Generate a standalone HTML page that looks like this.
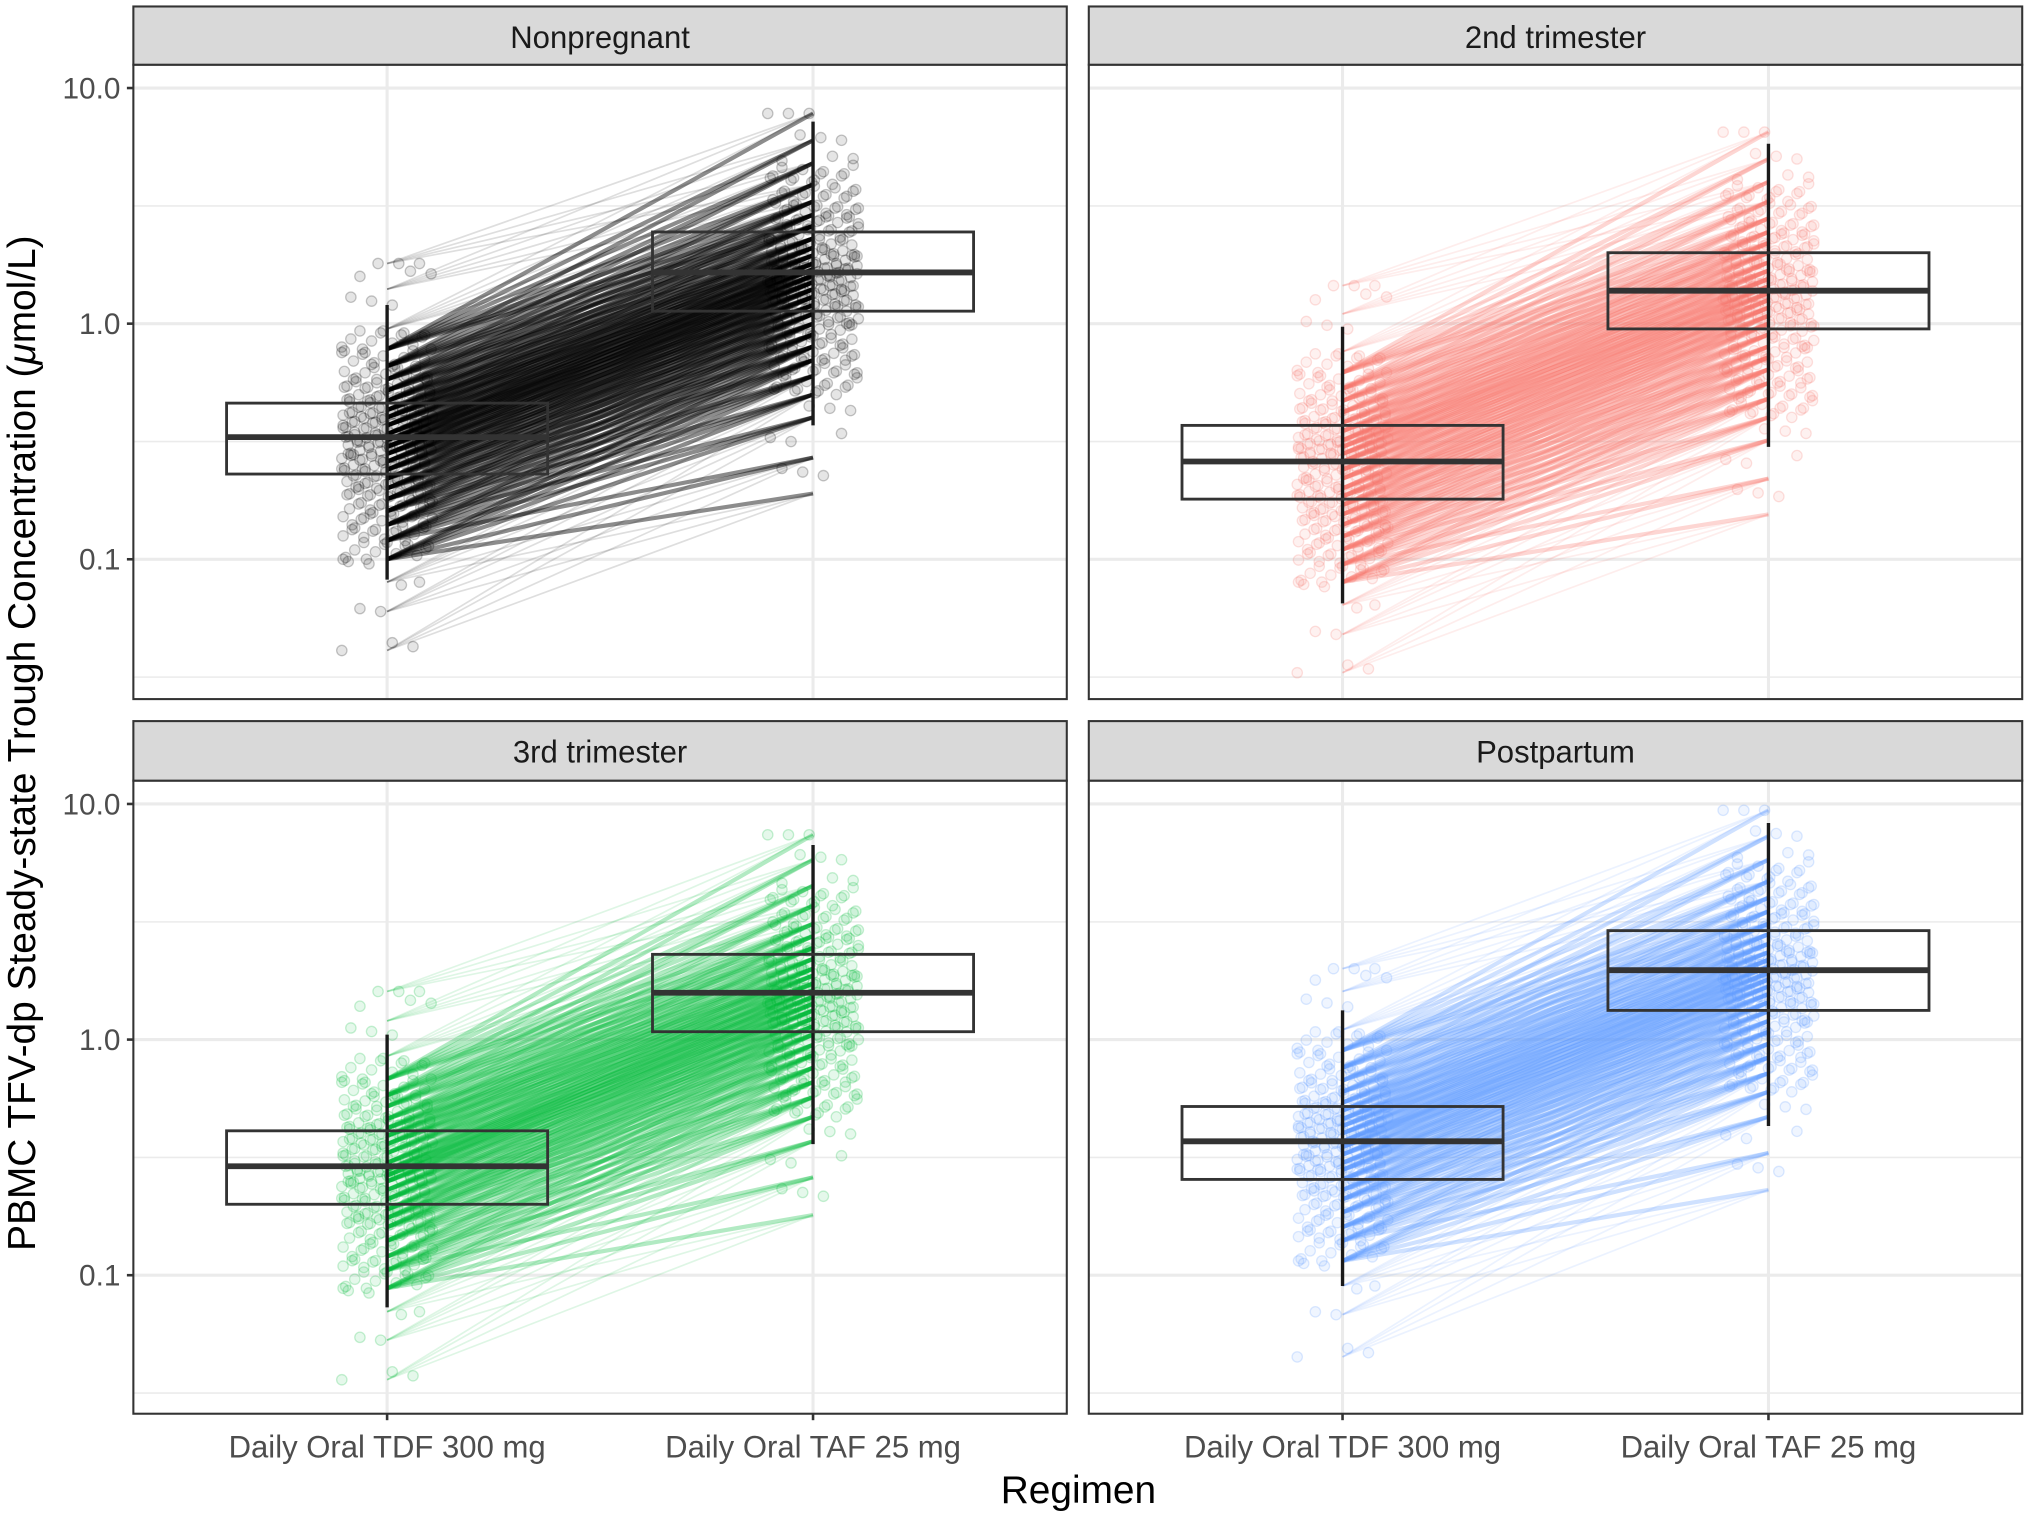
<!DOCTYPE html>
<html><head><meta charset="utf-8"><style>
html,body{margin:0;padding:0;background:#fff;}
svg{display:block;font-family:"Liberation Sans",sans-serif;}
</style></head><body>
<svg id="chart" width="2030" height="1516" viewBox="0 0 1568 1171" xmlns="http://www.w3.org/2000/svg">
<rect width="1568" height="1171" fill="#fff"/>
<text transform="translate(27,574) rotate(-90)" text-anchor="middle" font-size="30" fill="#000">PBMC TFV-dp Steady-state Trough Concentration (<tspan font-style="italic">μ</tspan>mol/L)</text>
<text x="833" y="1161" text-anchor="middle" font-size="30" fill="#000">Regimen</text>
</svg>
<script>
const panelNames = ["Nonpregnant","2nd trimester","3rd trimester","Postpartum"];
const panelColors = ["#000000","#F8766D","#00BA38","#619CFF"];
const categories = ["Daily Oral TDF 300 mg","Daily Oral TAF 25 mg"];
const yTicks = [10,1,0.1];
const yTickLabels = ["10.0","1.0","0.1"];
// box stats [lo, q1, med, q3, hi]
const tdfBox = [[0.082,0.23,0.33,0.46,1.2],[0.065,0.18,0.26,0.37,0.97],[0.073,0.20,0.29,0.41,1.05],[0.09,0.255,0.37,0.52,1.33]];
const tafBox = [[0.37,1.13,1.65,2.45,7.2],[0.30,0.95,1.38,2.0,5.8],[0.36,1.08,1.58,2.3,6.7],[0.43,1.33,1.97,2.9,8.3]];
// individual values (sorted pairs)
const tdfVals0 = [0.041,0.06,0.08,0.1,0.12,0.14,0.16,0.18,0.2,0.22,0.24,0.26,0.28,0.3,0.32,0.34,0.37,0.4,0.43,0.47,0.52,0.58,0.66,0.78,0.95,1.4,1.8];
const tafVals0 = [0.19,0.27,0.4,0.5,0.6,0.7,0.8,0.9,1.0,1.1,1.2,1.3,1.4,1.5,1.6,1.7,1.8,1.95,2.1,2.3,2.6,2.9,3.3,3.9,4.8,6.0,7.8];
const tdfVals1 = [0.033,0.048,0.064,0.08,0.095,0.11,0.125,0.14,0.155,0.17,0.185,0.2,0.22,0.24,0.26,0.28,0.3,0.32,0.35,0.38,0.42,0.47,0.53,0.62,0.76,1.1,1.45];
const tafVals1 = [0.155,0.22,0.32,0.4,0.48,0.56,0.64,0.72,0.8,0.9,1.0,1.08,1.17,1.26,1.35,1.44,1.55,1.68,1.82,2.0,2.2,2.45,2.8,3.3,4.0,5.0,6.5];
const tdfVals2 = [0.036,0.053,0.07,0.088,0.105,0.12,0.14,0.16,0.175,0.19,0.21,0.23,0.25,0.265,0.28,0.3,0.33,0.36,0.39,0.42,0.46,0.52,0.58,0.68,0.85,1.2,1.6];
const tafVals2 = [0.18,0.26,0.37,0.47,0.57,0.66,0.76,0.86,0.95,1.05,1.14,1.23,1.33,1.42,1.52,1.62,1.73,1.87,2.0,2.2,2.45,2.75,3.1,3.7,4.5,5.8,7.4];
const tdfVals3 = [0.045,0.068,0.09,0.115,0.14,0.16,0.185,0.21,0.23,0.255,0.28,0.3,0.325,0.35,0.37,0.4,0.43,0.46,0.5,0.54,0.6,0.67,0.76,0.9,1.1,1.6,2.0];
const tafVals3 = [0.23,0.33,0.47,0.6,0.72,0.84,0.96,1.08,1.2,1.32,1.44,1.56,1.68,1.8,1.92,2.04,2.18,2.35,2.55,2.8,3.1,3.5,4.0,4.7,5.8,7.3,9.4];
const tdfAll = [tdfVals0,tdfVals1,tdfVals2,tdfVals3];
const tafAll = [tafVals0,tafVals1,tafVals2,tafVals3];

const NS = "http://www.w3.org/2000/svg";
const svg = document.getElementById("chart");
function mk(tag, attrs, parent){const e=document.createElementNS(NS,tag);for(const k in attrs)e.setAttribute(k,attrs[k]);(parent||svg).appendChild(e);return e;}
const panels = [{x0:103,x1:824,s0:5,p0:50,p1:540},{x0:841,x1:1562,s0:5,p0:50,p1:540},{x0:103,x1:824,s0:557,p0:603,p1:1092},{x0:841,x1:1562,s0:557,p0:603,p1:1092}];

panels.forEach((P,pi)=>{
  const g = mk("g",{});
  
  
  const top10 = P.p0 + 18;
  const y = v => top10 + (1 - Math.log10(v)) * 182;
  const xc = [P.x0 + 196, P.x0 + 525];
  const clip = mk("clipPath",{id:"c"+pi},g);
  mk("rect",{x:P.x0,y:P.p0,width:P.x1-P.x0,height:P.p1-P.p0},clip);
  [0.0316,0.316,3.16].forEach(v=>{mk("line",{x1:P.x0,x2:P.x1,y1:y(v),y2:y(v),stroke:"#ebebeb","stroke-width":1.2},g);});
  yTicks.forEach(v=>{mk("line",{x1:P.x0,x2:P.x1,y1:y(v),y2:y(v),stroke:"#ebebeb","stroke-width":2.4},g);});
  xc.forEach(x=>{mk("line",{x1:x,x2:x,y1:P.p0,y2:P.p1,stroke:"#ebebeb","stroke-width":2.4},g);});
  const d = mk("g",{"clip-path":"url(#c"+pi+")"},g);
  const col = panelColors[pi];
  const tdf = tdfAll[pi], taf = tafAll[pi], n = tdf.length;
  for(let i=0;i<n;i++){
    for(let j=Math.max(0,i-3);j<=Math.min(n-1,i+3);j++){
      const mid=(i>2&&i<n-3);
      const l=mk("line",{x1:xc[0],y1:y(tdf[i]),x2:xc[1],y2:y(taf[j]),stroke:col,"stroke-width":mid?3.2:1.3,"stroke-opacity":mid?(pi==0?0.45:0.3):0.13},d);
      
      
    }
  }
  [tdf,taf].forEach((vals,c)=>{
    vals.forEach((v,i)=>{
      const reps = (i>2&&i<n-3)?14:3;
      for(let r=0;r<reps;r++){
        const k=i*7+r*13+c*5;
        const dx=((k*37)%71)-35;
        const ratio = i<n-1 ? vals[i+1]/v : 1;
        const vv = v*Math.pow(ratio,((k*17)%10)/10);
        const p=mk("circle",{cx:xc[c]+dx,cy:y(vv),r:4,fill:col,"fill-opacity":0.1,stroke:col,"stroke-opacity":0.22,"stroke-width":1},d);
        
        
      }
    });
  });
  [tdfBox[pi],tafBox[pi]].forEach((b,c)=>{
    const x=xc[c];
    const w=mk("line",{x1:x,x2:x,y1:y(b[0]),y2:y(b[4]),stroke:"#1a1a1a","stroke-width":2.6},d);
    
    
    const r=mk("rect",{x:x-124,y:y(b[3]),width:248,height:y(b[1])-y(b[3]),fill:"none",stroke:"#333","stroke-width":2.2},d);
    
    
    const m=mk("line",{x1:x-124,x2:x+124,y1:y(b[2]),y2:y(b[2]),stroke:"#333","stroke-width":4.5},d);
    
    
  });
  mk("rect",{x:P.x0,y:P.p0,width:P.x1-P.x0,height:P.p1-P.p0,fill:"none",stroke:"#333","stroke-width":1.6},g);
  const s=mk("rect",{x:P.x0,y:P.s0,width:P.x1-P.x0,height:P.p0-P.s0,fill:"#d9d9d9",stroke:"#333","stroke-width":1.6},g);
  
  
  const st=mk("text",{x:(P.x0+P.x1)/2,y:P.s0+32,"text-anchor":"middle","font-size":24,fill:"#1a1a1a"},g);
  st.textContent=panelNames[pi];
  
  
  if(pi%2==0){
    yTicks.forEach((v,i)=>{
      mk("line",{x1:P.x0-5,x2:P.x0,y1:y(v),y2:y(v),stroke:"#333","stroke-width":2},g);
      const t=mk("text",{x:P.x0-10,y:y(v)+8,"text-anchor":"end","font-size":23,fill:"#4d4d4d"},g);
      t.textContent=yTickLabels[i];
      
      
    });
  }
  if(pi>=2){
    xc.forEach((x,i)=>{
      mk("line",{x1:x,x2:x,y1:P.p1,y2:P.p1+5,stroke:"#333","stroke-width":2},g);
      const t=mk("text",{x:x,y:P.p1+34,"text-anchor":"middle","font-size":24,fill:"#4d4d4d"},g);
      t.textContent=categories[i];
      
      
    });
  }
});
</script>
</body></html>
